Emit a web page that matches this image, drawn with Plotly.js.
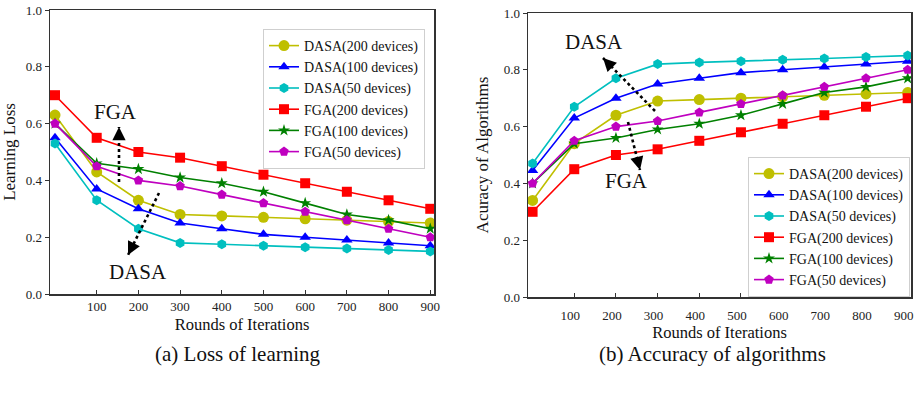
<!DOCTYPE html>
<html>
<head>
<meta charset="utf-8">
<script src="https://cdn.plot.ly/plotly-3.0.1.min.js"></script>
<style>html,body{margin:0;padding:0;background:#fff;}#chart{width:916px;height:396px;}</style>
</head>
<body>
<div id="chart"></div>
<script>
// ---- data ----
const rounds = [0, 100, 200, 300, 400, 500, 600, 700, 800, 900];
const tickRounds = [100, 200, 300, 400, 500, 600, 700, 800, 900];
const seriesNames = ["DASA(200 devices)", "DASA(100 devices)", "DASA(50 devices)",
                     "FGA(200 devices)", "FGA(100 devices)", "FGA(50 devices)"];
// (a) learning loss
const lossDASA200 = [0.63, 0.43, 0.33, 0.28, 0.275, 0.27, 0.265, 0.26, 0.255, 0.25];
const lossDASA100 = [0.55, 0.37, 0.30, 0.25, 0.23, 0.21, 0.20, 0.19, 0.18, 0.17];
const lossDASA50  = [0.53, 0.33, 0.23, 0.18, 0.175, 0.17, 0.165, 0.16, 0.155, 0.15];
const lossFGA200  = [0.70, 0.55, 0.50, 0.48, 0.45, 0.42, 0.39, 0.36, 0.33, 0.30];
const lossFGA100  = [0.60, 0.46, 0.44, 0.41, 0.39, 0.36, 0.32, 0.28, 0.26, 0.23];
const lossFGA50   = [0.60, 0.45, 0.40, 0.38, 0.35, 0.32, 0.29, 0.26, 0.23, 0.20];
// (b) accuracy
const accDASA200 = [0.34, 0.54, 0.64, 0.69, 0.695, 0.70, 0.705, 0.71, 0.715, 0.72];
const accDASA100 = [0.445, 0.63, 0.70, 0.75, 0.77, 0.79, 0.80, 0.81, 0.82, 0.83];
const accDASA50  = [0.47, 0.67, 0.77, 0.82, 0.826, 0.83, 0.835, 0.84, 0.845, 0.85];
const accFGA200  = [0.30, 0.45, 0.50, 0.52, 0.55, 0.58, 0.61, 0.64, 0.67, 0.70];
const accFGA100  = [0.40, 0.54, 0.56, 0.59, 0.61, 0.64, 0.68, 0.72, 0.74, 0.77];
const accFGA50   = [0.40, 0.55, 0.60, 0.62, 0.65, 0.68, 0.71, 0.74, 0.77, 0.80];
const yTicks = [0.0, 0.2, 0.4, 0.6, 0.8, 1.0];
const yTickText = ["0.0", "0.2", "0.4", "0.6", "0.8", "1.0"];

// ---- styles ----
const colors = ["#bfbf00", "#0000ff", "#00bfbf", "#ff0000", "#008000", "#bf00bf"];
const symbols = ["circle", "triangle-up", "hexagon", "square", "star", "pentagon"];
const sizes = [11, 10, 10, 10, 9, 10];
const FONT = "Liberation Serif";
const W = 916, H = 396;
const px = x => x / W;
const py = y => 1 - y / H;

const lossSeries = [lossDASA200, lossDASA100, lossDASA50, lossFGA200, lossFGA100, lossFGA50];
const accSeries = [accDASA200, accDASA100, accDASA50, accFGA200, accFGA100, accFGA50];

const traces = [];
lossSeries.forEach((ys, i) => traces.push({
  x: rounds, y: ys, name: seriesNames[i], type: "scatter", mode: "lines+markers",
  xaxis: "x", yaxis: "y", legend: "legend",
  line: {color: colors[i], width: 1.6},
  marker: {color: colors[i], symbol: symbols[i], size: sizes[i]}
}));
accSeries.forEach((ys, i) => traces.push({
  x: rounds, y: ys, name: seriesNames[i], type: "scatter", mode: "lines+markers",
  xaxis: "x2", yaxis: "y2", legend: "legend2",
  line: {color: colors[i], width: 1.6},
  marker: {color: colors[i], symbol: symbols[i], size: sizes[i]}
}));

const axisCommon = {
  showgrid: false, zeroline: false, showline: true, mirror: true,
  linecolor: "#333", linewidth: 1.5,
  tickfont: {family: FONT, size: 13, color: "#222"},
  automargin: false, ticklabeloverflow: "allow"
};

const legendCommon = {
  xanchor: "left", yanchor: "top",
  bgcolor: "#fff", bordercolor: "#cfcfcf", borderwidth: 1,
  font: {family: FONT, size: 14, color: "#111"},
  tracegroupgap: 0, itemwidth: 30
};

function arrow(tail, tip) {
  return {type: "line", xref: "paper", yref: "paper",
    x0: px(tail[0]), y0: py(tail[1]), x1: px(tip[0]), y1: py(tip[1]),
    line: {color: "#000", width: 2.6, dash: "dot"}};
}
function head(tail, tip) {
  const dx = tail[0] - tip[0], dy = tail[1] - tip[1];
  const L = Math.hypot(dx, dy);
  return {xref: "paper", yref: "paper", x: px(tip[0]), y: py(tip[1]),
    axref: "pixel", ayref: "pixel", ax: dx / L * 8, ay: dy / L * 8,
    text: "", showarrow: true, arrowhead: 2, arrowsize: 1.1, arrowwidth: 2.4, arrowcolor: "#000"};
}
function label(text, x, y, size) {
  return {xref: "paper", yref: "paper", x: px(x), y: py(y), text: text,
    showarrow: false, xanchor: "center", yanchor: "middle",
    font: {family: FONT, size: size, color: "#111"}};
}

const arrowsDef = [
  [[119, 182], [119, 127]],
  [[159, 193], [128, 255]],
  [[655, 111], [603, 58]],
  [[628, 122], [640, 170]]
];

const layout = {
  width: W, height: H,
  margin: {l: 0, r: 0, t: 0, b: 0},
  paper_bgcolor: "#fff", plot_bgcolor: "#fff",
  font: {family: FONT, color: "#111"},
  showlegend: true,
  xaxis: Object.assign({}, axisCommon, {
    domain: [px(50), px(434)], range: [-12, 909], anchor: "y",
    tickvals: tickRounds, ticks: "inside", ticklen: 4, tickcolor: "#333",
    title: {text: "Rounds of Iterations", font: {family: FONT, size: 16.5, color: "#111"}, standoff: 5}
  }),
  yaxis: Object.assign({}, axisCommon, {
    domain: [py(294), py(10)], range: [0, 1], anchor: "x",
    tickvals: yTicks, ticktext: yTickText, ticks: "outside", ticklen: 4, tickcolor: "#333",
    title: {text: "Learning Loss", font: {family: FONT, size: 17, color: "#111"}, standoff: 8}
  }),
  xaxis2: Object.assign({}, axisCommon, {
    domain: [px(528), px(911)], range: [-11, 908], anchor: "y2",
    tickvals: tickRounds, ticks: "inside", ticklen: 4, tickcolor: "#333",
    ticklabelstandoff: 6, ticklabelshift: -4,
    title: {text: "Rounds of Iterations", font: {family: FONT, size: 16.5, color: "#111"}, standoff: 1}
  }),
  yaxis2: Object.assign({}, axisCommon, {
    domain: [py(297), py(13)], range: [0, 1], anchor: "x2",
    tickvals: yTicks, ticktext: yTickText, ticks: "outside", ticklen: 4, tickcolor: "#333",
    title: {text: "Acuracy of Algorithms", font: {family: FONT, size: 17, color: "#111"}, standoff: 10}
  }),
  legend: Object.assign({}, legendCommon, {x: px(263), y: py(29)}),
  legend2: Object.assign({}, legendCommon, {x: px(748), y: py(157)}),
  shapes: arrowsDef.map(a => arrow(a[0], a[1])),
  annotations: arrowsDef.map(a => head(a[0], a[1])).concat([
    label("FGA", 116, 112, 21),
    label("DASA", 138, 272, 21),
    label("DASA", 594, 42, 21),
    label("FGA", 626, 181, 21),
    label("(a) Loss of learning", 238, 354, 21),
    label("(b) Accuracy of algorithms", 712, 354, 21)
  ])
};

Plotly.newPlot("chart", traces, layout, {displayModeBar: false, staticPlot: true});
</script>
</body>
</html>
